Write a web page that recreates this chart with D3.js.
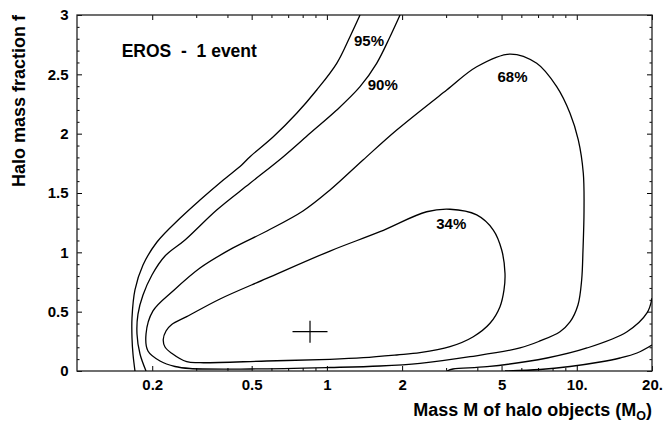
<!DOCTYPE html>
<html><head><meta charset="utf-8">
<script src="https://cdn.jsdelivr.net/npm/d3@7"></script>
<style>
body{margin:0;background:#fff}
svg{display:block}
text{font-family:"Liberation Sans",Arial,Helvetica,sans-serif;font-weight:bold;fill:#000}
</style>
</head><body>
<svg id="chart" width="663" height="422"></svg>
<script>
// ---- tick values / labels ----
const xMajorTicks = [0.2, 0.5, 1, 2, 5, 10, 20];
const xTickLabels = ["0.2", "0.5", "1", "2", "5", "10.", "20."];
const xMinorTicks = [0.3, 0.4, 0.6, 0.7, 0.8, 0.9, 3, 4, 6, 7, 8, 9];
const yMajorTicks = [0, 0.5, 1, 1.5, 2, 2.5, 3];
const yTickLabels = ["0", "0.5", "1", "1.5", "2", "2.5", "3"];
const yMinorTicks = [0.1,0.2,0.3,0.4,0.6,0.7,0.8,0.9,1.1,1.2,1.3,1.4,1.6,1.7,1.8,1.9,2.1,2.2,2.3,2.4,2.6,2.7,2.8,2.9];

// ---- contour data: [M (solar masses), f] ----
const c95Left = [[1.357,3.0],[1.237,2.817],[1.095,2.593],[0.9105,2.368],[0.7571,2.172],[0.6103,1.974],[0.4925,1.806],[0.4561,1.736],[0.385,1.61],[0.3106,1.441],[0.2583,1.287],[0.209,1.087],[0.1837,0.893],[0.1706,0.683],[0.166,0.447],[0.166,0.278],[0.1675,0.143],[0.1706,0]];
const c95Right = [[5.161,0],[7.126,0.0126],[9.395,0.0379],[12.39,0.0758],[14.89,0.1096],[17.42,0.1517],[20,0.219]];
const c90Left = [[1.962,3.0],[1.789,2.817],[1.582,2.593],[1.357,2.396],[1.095,2.199],[0.856,2.003],[0.6692,1.806],[0.4925,1.582],[0.3623,1.357],[0.2705,1.104],[0.225,0.969],[0.1995,0.809],[0.1837,0.64],[0.1754,0.48],[0.1738,0.312],[0.1787,0.143],[0.1889,0]];
const c90Right = [[3.025,0],[3.196,0.0169],[4.373,0.0362],[7.602,0.1096],[10.99,0.194],[15.89,0.331],[19.1,0.489],[20,0.615]];
const c68 = [[0.1889,0.312],[0.2014,0.506],[0.2422,0.674],[0.3106,0.868],[0.421,1.037],[0.5758,1.18],[0.8024,1.348],[1.029,1.525],[1.395,1.778],[1.903,2.031],[3.017,2.368],[3.977,2.564],[5.405,2.671],[6.913,2.593],[8.311,2.396],[9.395,2.172],[10.14,1.947],[10.62,1.666],[10.69,1.348],[10.59,1.02],[10.46,0.767],[10.11,0.556],[9.395,0.413],[8.566,0.331],[7.126,0.253],[5.927,0.194],[3.739,0.1205],[2.358,0.0649],[1.631,0.0421],[1.029,0.0295],[0.4925,0.0169],[0.2833,0.0211],[0.2467,0.0379],[0.2149,0.0843],[0.1923,0.1685]];
const c34 = [[0.2214,0.2655],[0.2271,0.337],[0.2393,0.392],[0.2748,0.458],[0.3735,0.607],[0.5742,0.78],[1.029,1.011],[1.631,1.174],[2.508,1.342],[3.109,1.363],[3.977,1.315],[4.634,1.188],[5.007,1.02],[5.161,0.823],[5.114,0.683],[4.929,0.542],[4.495,0.402],[3.854,0.289],[3.109,0.205],[2.358,0.154],[1.903,0.135],[1.399,0.112],[1.029,0.0986],[0.5742,0.0843],[0.3106,0.07],[0.2748,0.078],[0.2393,0.149],[0.225,0.202]];

const bestFit = [0.856, 0.331];
const contourLabels = ["95%", "90%", "68%", "34%"];
const contourLabelM = [1.474, 1.674, 5.531, 3.147];
const contourLabelF = [2.739, 2.364, 2.438, 1.197];

// ---- layout ----
const svg = d3.select("#chart");
const margin = {left: 77, top: 15, right: 11, bottom: 51};
const W = 663 - margin.left - margin.right;
const H = 422 - margin.top - margin.bottom;
const g = svg.append("g").attr("transform", `translate(${margin.left},${margin.top})`);

const x = d3.scaleLog().domain([0.1, 20]).range([0, W]);
const y = d3.scaleLinear().domain([0, 3]).range([H, 0]);

svg.append("defs").append("clipPath").attr("id", "clip")
  .append("rect").attr("x", 0).attr("y", 0).attr("width", W).attr("height", H);

// axes
function styleAxis(sel) {
  sel.select(".domain").remove();
  sel.selectAll("line").attr("stroke", "#000").attr("stroke-width", 1);
  sel.selectAll("text").style("font-size", "15px").style("font-weight", "bold")
     .style("font-family", '"Liberation Sans",Arial,sans-serif').attr("fill", "#000");
}
g.append("g").attr("transform", `translate(0,${H})`)
  .call(d3.axisBottom(x).tickValues(xMajorTicks).tickSize(-5).tickPadding(8)
        .tickFormat((d, i) => xTickLabels[i])).call(styleAxis);
g.append("g").attr("transform", `translate(0,${H})`)
  .call(d3.axisBottom(x).tickValues(xMinorTicks).tickSize(-3).tickFormat("")).call(styleAxis);
g.append("g")
  .call(d3.axisTop(x).tickValues(xMajorTicks).tickSize(-5).tickFormat("")).call(styleAxis);
g.append("g")
  .call(d3.axisTop(x).tickValues(xMinorTicks).tickSize(-3).tickFormat("")).call(styleAxis);
g.append("g")
  .call(d3.axisLeft(y).tickValues(yMajorTicks).tickSize(-5).tickPadding(8.5)
        .tickFormat((d, i) => yTickLabels[i])).call(styleAxis);
g.append("g")
  .call(d3.axisLeft(y).tickValues(yMinorTicks).tickSize(-2.5).tickFormat("")).call(styleAxis);
g.append("g").attr("transform", `translate(${W},0)`)
  .call(d3.axisRight(y).tickValues(yMajorTicks).tickSize(-5).tickFormat("")).call(styleAxis);
g.append("g").attr("transform", `translate(${W},0)`)
  .call(d3.axisRight(y).tickValues(yMinorTicks).tickSize(-2.5).tickFormat("")).call(styleAxis);

// frame
g.append("rect").attr("x", 0).attr("y", 0).attr("width", W).attr("height", H)
  .attr("fill", "none").attr("stroke", "#222").attr("stroke-width", 1.3);

// contours
const plot = g.append("g").attr("clip-path", "url(#clip)");
const openLine = d3.line().x(d => x(d[0])).y(d => y(d[1])).curve(d3.curveCatmullRom.alpha(0.5));
const closedLine = d3.line().x(d => x(d[0])).y(d => y(d[1])).curve(d3.curveCatmullRomClosed.alpha(0.5));
[c95Left, c95Right, c90Left, c90Right].forEach(c => {
  plot.append("path").attr("d", openLine(c)).attr("fill", "none").attr("stroke", "#000").attr("stroke-width", 1.3);
});
[c68, c34].forEach(c => {
  plot.append("path").attr("d", closedLine(c)).attr("fill", "none").attr("stroke", "#000").attr("stroke-width", 1.3);
});

// best fit cross
const cx = x(bestFit[0]), cy = y(bestFit[1]);
plot.append("line").attr("x1", cx - 17.5).attr("x2", cx + 17.5).attr("y1", cy).attr("y2", cy)
  .attr("stroke", "#000").attr("stroke-width", 1.2);
plot.append("line").attr("x1", cx).attr("x2", cx).attr("y1", cy - 11).attr("y2", cy + 11)
  .attr("stroke", "#000").attr("stroke-width", 1.2);

// contour labels
contourLabels.forEach((t, i) => {
  g.append("text").attr("x", x(contourLabelM[i])).attr("y", y(contourLabelF[i]))
    .attr("text-anchor", "middle").style("font-size", "15px").text(t);
});

// annotation
g.append("text").attr("x", 121.7 - margin.left).attr("y", 57.3 - margin.top)
  .style("font-size", "17.5px").style("white-space", "pre").text("EROS  -  1 event");

// axis titles
const xt = svg.append("text").attr("x", 652).attr("y", 416).attr("text-anchor", "end")
  .style("font-size", "18px");
xt.append("tspan").text("Mass M of halo objects (M");
xt.append("tspan").attr("dy", 4).style("font-size", "12.5px").text("O");
xt.append("tspan").attr("dy", -4).text(")");

svg.append("text").attr("transform", "translate(25,15) rotate(-90)")
  .attr("text-anchor", "end").style("font-size", "18px").text("Halo mass fraction f");
</script>
</body></html>
